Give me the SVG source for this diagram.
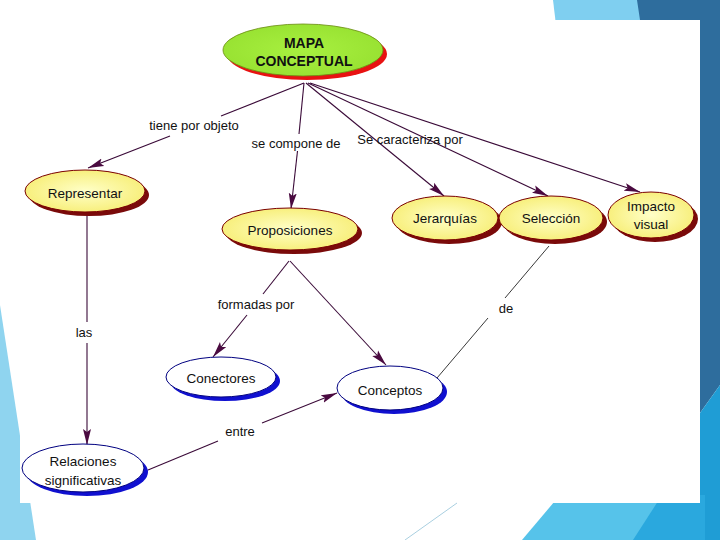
<svg xmlns="http://www.w3.org/2000/svg" width="720" height="540" viewBox="0 0 720 540">
<style>
.lbl{font-family:"Liberation Sans",Arial,sans-serif;font-size:13px;fill:#111;text-anchor:middle}
.nt{font-family:"Liberation Sans",Arial,sans-serif;font-size:13.5px;fill:#111;text-anchor:middle}
.title{font-family:"Liberation Sans",Arial,sans-serif;font-size:14px;font-weight:bold;fill:#111;text-anchor:middle}
.yel{fill:url(#yg);stroke:#7a0000;stroke-width:1}
.yshd{fill:#7a0a0a}
.blu{fill:#ffffff;stroke:#000080;stroke-width:1}
.bshd{fill:#1010d0}
.con{stroke:#3a0a38;stroke-width:1.1;fill:none}
.arr{marker-end:url(#ah)}
</style>
<defs>
<radialGradient id="yg" cx="50%" cy="50%" r="60%">
<stop offset="0" stop-color="#ffffc8"/>
<stop offset="1" stop-color="#f6ec6e"/>
</radialGradient>
<radialGradient id="gg" cx="50%" cy="50%" r="60%">
<stop offset="0" stop-color="#a8f040"/>
<stop offset="1" stop-color="#96e030"/>
</radialGradient>
<marker id="ah" markerUnits="userSpaceOnUse" markerWidth="17" markerHeight="9" refX="16" refY="4.5" orient="auto">
<path d="M0,0.5 L16,4.5 L0,8.5 L3,4.5 Z" fill="#4a0a40"/>
</marker>
</defs>
<rect width="720" height="540" fill="#ffffff"/>
<g id="background">
<polygon points="553,0 640,0 642,25 556,25" fill="#7fcff0"/>
<polygon points="637,0 720,0 720,385 695,420 695,20 640,20" fill="#2e6d9d"/>
<polygon points="720,385 720,540 600,540 695,420" fill="#1f9dd5"/>
<polygon points="560,495 705,495 705,540 522,540" fill="#56c3ea"/>
<polygon points="662,495 705,495 705,540 633,540" fill="#2aa8de"/>
<polygon points="0,305 36,540 0,540" fill="#8fd4ef"/>
<rect x="20" y="20" width="680" height="483" fill="#ffffff"/>
<line x1="457" y1="503" x2="405" y2="540" stroke="#a9cfe0" stroke-width="1"/>
</g>
<g id="connectors">
<line class="con" x1="304" y1="83" x2="221" y2="116"/>
<line class="con arr" x1="170" y1="136" x2="88" y2="168"/>
<line class="con" x1="304" y1="83" x2="299" y2="134"/>
<line class="con arr" x1="297.5" y1="151" x2="291" y2="209"/>
<line class="con arr" x1="306" y1="83" x2="444" y2="196"/>
<line class="con arr" x1="308" y1="83" x2="548" y2="196"/>
<line class="con arr" x1="310" y1="83" x2="640" y2="192"/>
<line class="con" x1="87" y1="214" x2="87" y2="322"/>
<line class="con arr" x1="87" y1="343" x2="87" y2="445"/>
<line class="con" x1="289" y1="261" x2="263" y2="294"/>
<line class="con arr" x1="247" y1="315" x2="213" y2="357"/>
<line class="con arr" x1="290" y1="261" x2="386" y2="365"/>
<line class="con" x1="148" y1="470" x2="218" y2="441"/>
<line class="con arr" x1="262" y1="423" x2="337" y2="393"/>
<line x1="549" y1="246" x2="505" y2="298" stroke="#222" stroke-width="0.9"/>
<line x1="488" y1="318" x2="437" y2="378" stroke="#222" stroke-width="0.9"/>
<text class="lbl" x="194" y="130">tiene por objeto</text>
<text class="lbl" x="296" y="148">se compone de</text>
<text class="lbl" x="410" y="144">Se caracteriza por</text>
<text class="lbl" x="84" y="337">las</text>
<text class="lbl" x="256" y="309">formadas por</text>
<text class="lbl" x="506" y="313">de</text>
<text class="lbl" x="240" y="436">entre</text>
</g>
<g id="node-mapa">
<ellipse cx="307" cy="54" rx="80" ry="26" fill="#e81212"/>
<ellipse cx="303" cy="50" rx="80" ry="26" fill="url(#gg)" stroke="#6a8a10" stroke-width="0.8"/>
<text class="title" x="304" y="48">MAPA</text>
<text class="title" x="304" y="66">CONCEPTUAL</text>
</g>
<g id="node-representar">
<ellipse class="yshd" cx="89" cy="195" rx="60" ry="21"/>
<ellipse class="yel" cx="85" cy="191" rx="60" ry="21"/>
<text class="nt" x="85" y="198">Representar</text>
</g>
<g id="node-proposiciones">
<ellipse class="yshd" cx="294" cy="233" rx="68" ry="21"/>
<ellipse class="yel" cx="290" cy="229" rx="68" ry="21"/>
<text class="nt" x="290" y="235">Proposiciones</text>
</g>
<g id="node-jerarquias">
<ellipse class="yshd" cx="449" cy="222" rx="53" ry="22"/>
<ellipse class="yel" cx="445" cy="218" rx="53" ry="22"/>
<text class="nt" x="445" y="223">Jerarquías</text>
</g>
<g id="node-seleccion">
<ellipse class="yshd" cx="555" cy="222" rx="52" ry="22"/>
<ellipse class="yel" cx="551" cy="218" rx="52" ry="22"/>
<text class="nt" x="551" y="223">Selección</text>
</g>
<g id="node-impacto">
<ellipse class="yshd" cx="655" cy="219" rx="43" ry="23"/>
<ellipse class="yel" cx="651" cy="215" rx="43" ry="23"/>
<text class="nt" x="651" y="211">Impacto</text>
<text class="nt" x="651" y="229">visual</text>
</g>
<g id="node-conectores">
<ellipse class="bshd" cx="225" cy="381" rx="55" ry="20"/>
<ellipse class="blu" cx="221" cy="377" rx="55" ry="20"/>
<text class="nt" x="221" y="383">Conectores</text>
</g>
<g id="node-conceptos">
<ellipse class="bshd" cx="394" cy="392" rx="53" ry="22"/>
<ellipse class="blu" cx="390" cy="388" rx="53" ry="22"/>
<text class="nt" x="390" y="395">Conceptos</text>
</g>
<g id="node-relaciones">
<ellipse class="bshd" cx="87" cy="472" rx="61" ry="24"/>
<ellipse class="blu" cx="83" cy="468" rx="61" ry="24"/>
<text class="nt" x="83" y="466">Relaciones</text>
<text class="nt" x="83" y="485">significativas</text>
</g>
</svg>
